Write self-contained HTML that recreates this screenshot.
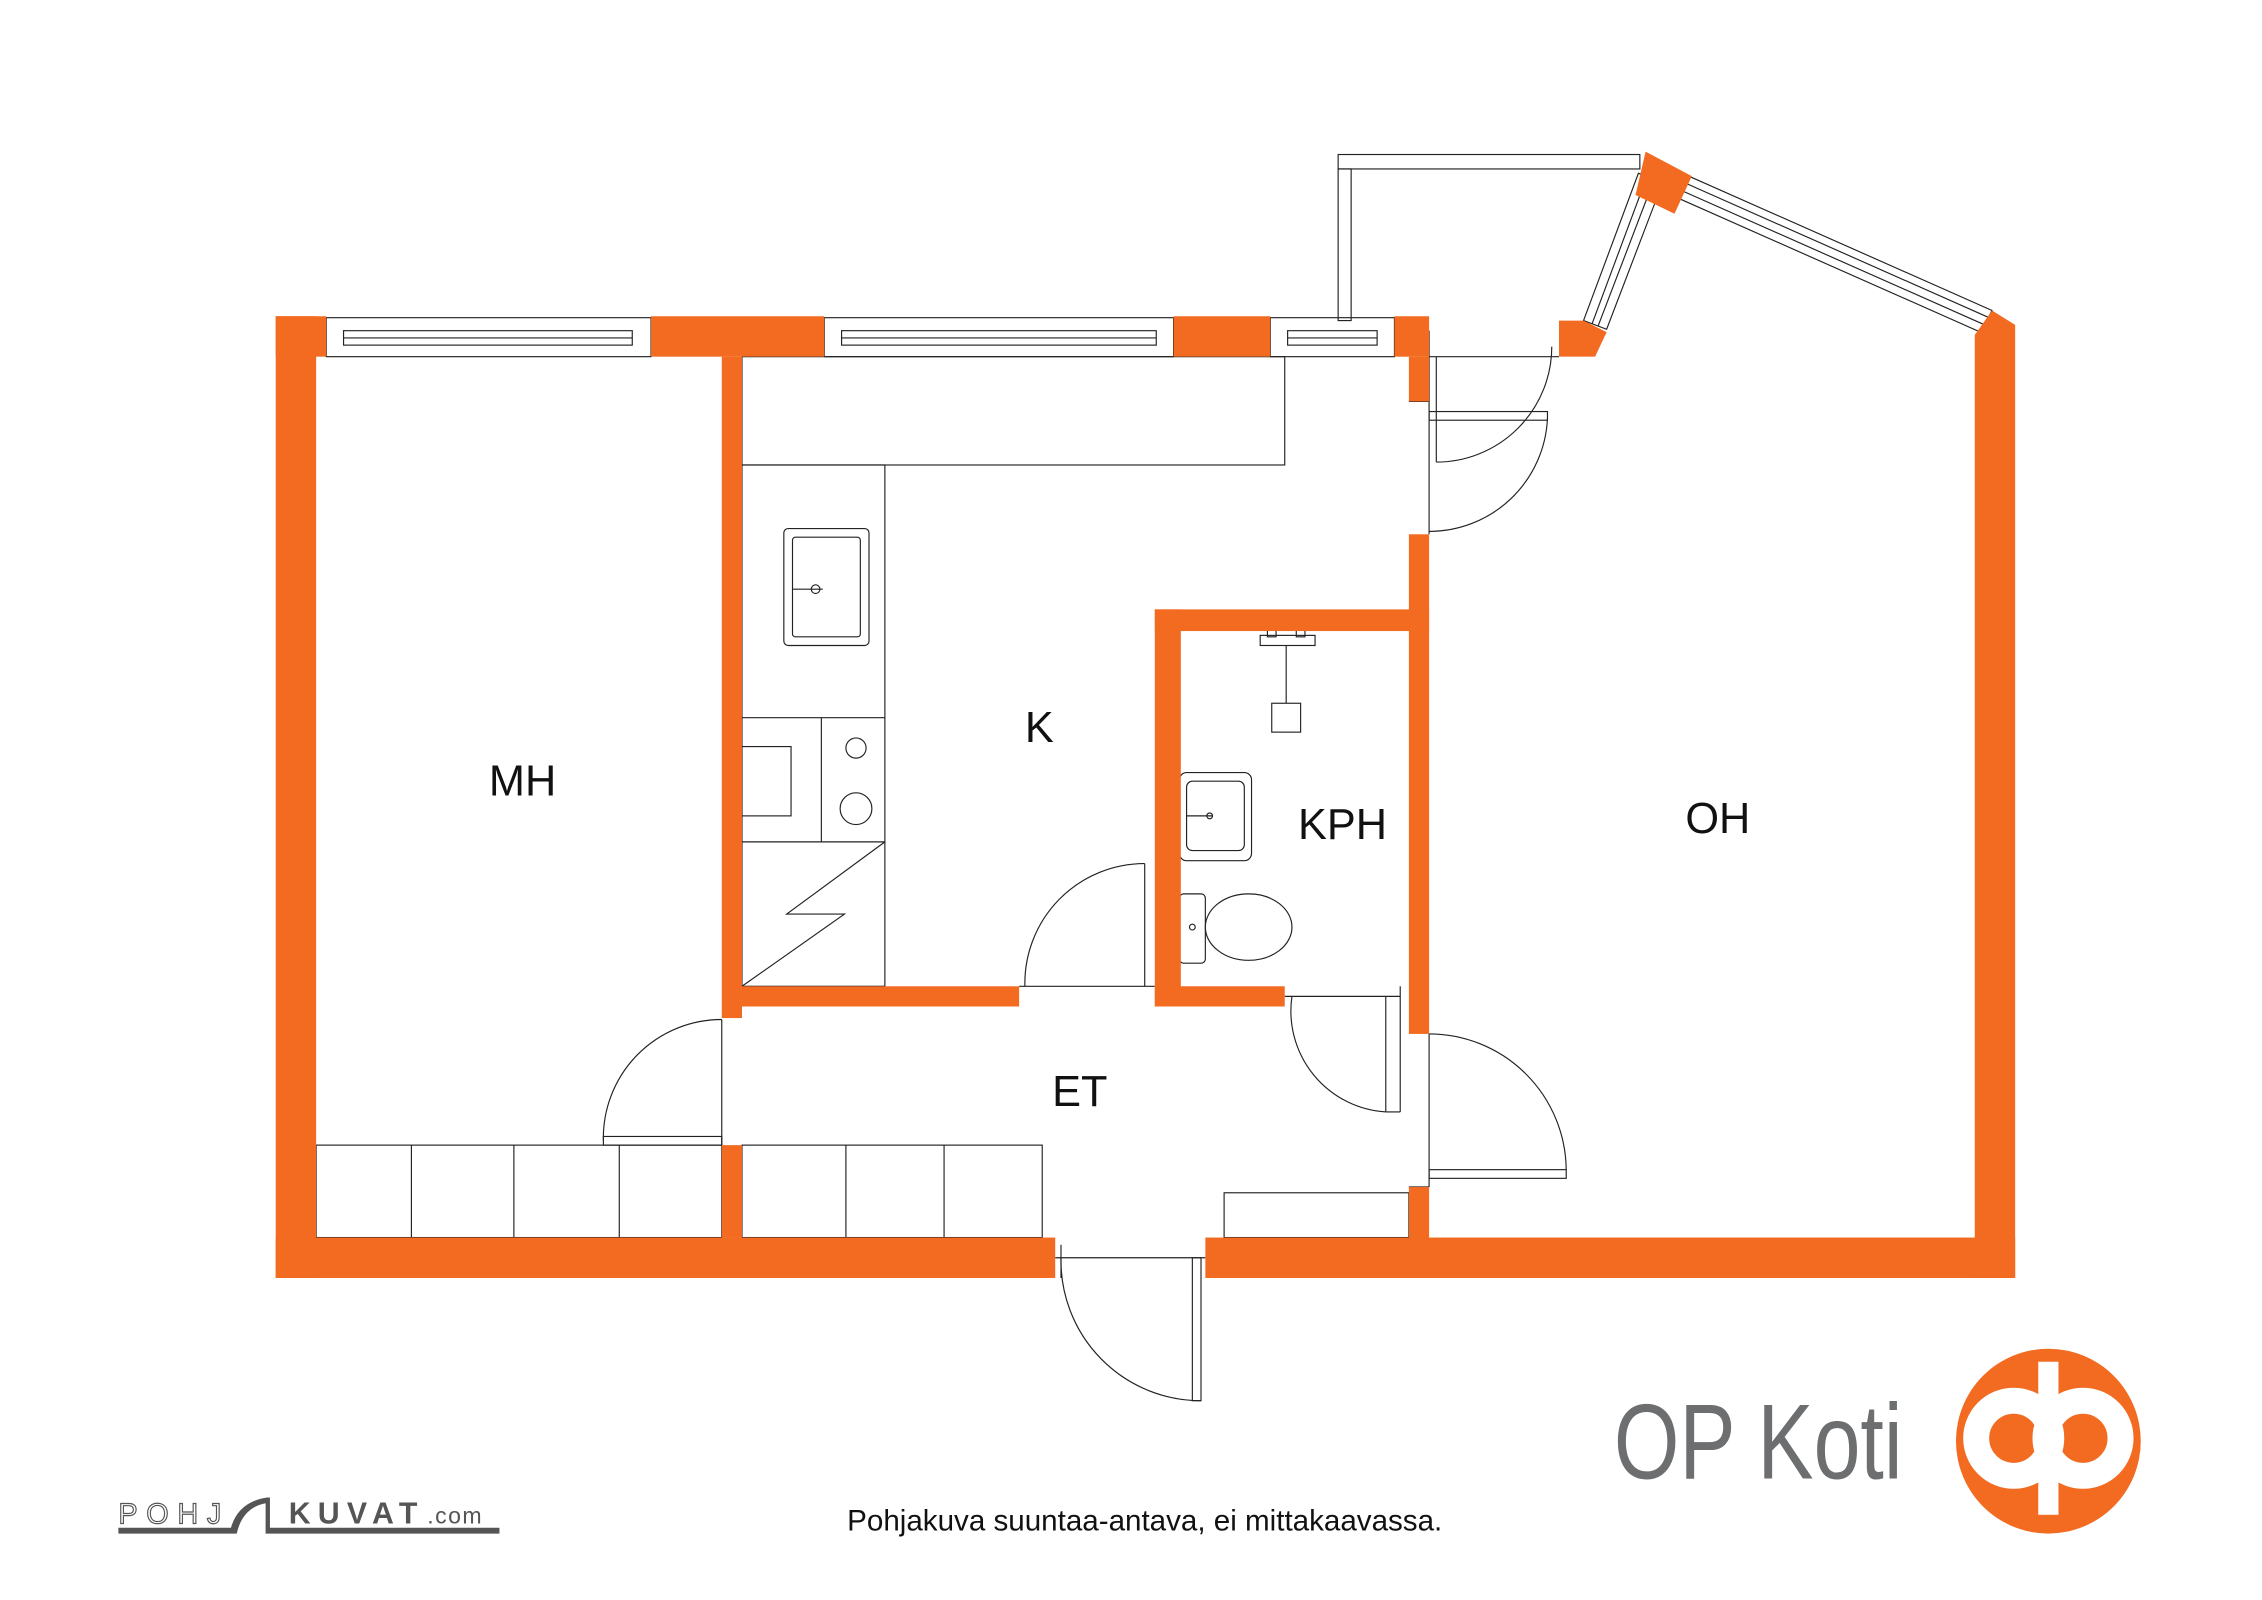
<!DOCTYPE html>
<html><head><meta charset="utf-8"><style>
html,body{margin:0;padding:0;background:#fff;}
svg{display:block;}
</style></head><body>
<svg width="2262" height="1600" viewBox="0 0 1567 1108" preserveAspectRatio="none" xmlns="http://www.w3.org/2000/svg" font-family="Liberation Sans, sans-serif">
<rect width="1567" height="1108" fill="#fff"/>
<g fill="none" stroke="#222" stroke-width="0.8">
<rect x="927" y="107" width="209" height="10"/>
<rect x="927" y="117" width="9" height="105"/>
<rect x="226" y="220" width="225" height="27"/>
<rect x="238" y="229" width="200" height="10"/>
<line x1="238" y1="234" x2="438" y2="234"/>
<rect x="571" y="220" width="242" height="27"/>
<rect x="583" y="229" width="218" height="10"/>
<line x1="583" y1="234" x2="801" y2="234"/>
<rect x="880" y="220" width="86" height="27"/>
<rect x="892" y="229" width="62" height="10"/>
<line x1="892" y1="234" x2="954" y2="234"/>
<polygon points="1097,222 1135,120 1152,126 1113,228"/>
<line x1="1103" y1="224" x2="1141" y2="122"/>
<line x1="1107" y1="226" x2="1146" y2="124"/>
<polygon points="1170,122 1380,215 1372,230 1162,137"/>
<line x1="1168" y1="127" x2="1378" y2="220"/>
<line x1="1165" y1="132" x2="1375" y2="225"/>
<line x1="990" y1="247" x2="1080" y2="247"/>
<line x1="990" y1="229" x2="990" y2="370"/>
<path d="M995,247 L995,320 M995,320 A80,80 0 0 0 1075,240"/>
<rect x="990" y="285" width="82" height="6"/>
<path d="M990,368 A82,82 0 0 0 1072,290"/>
<line x1="976" y1="278" x2="990" y2="278"/>
<rect x="514" y="247" width="376" height="75"/>
<rect x="514" y="322" width="99" height="361"/>
<rect x="543" y="366" width="59" height="81" rx="3"/>
<rect x="549" y="372" width="47" height="69" rx="2"/>
<line x1="549" y1="408" x2="570" y2="408"/><circle cx="565" cy="408" r="3"/>
<line x1="514" y1="497" x2="613" y2="497"/>
<line x1="569" y1="497" x2="569" y2="583"/>
<rect x="514" y="517" width="34" height="48"/>
<circle cx="593" cy="518" r="7"/><circle cx="593" cy="560" r="11"/>
<line x1="514" y1="583" x2="613" y2="583"/>
<polyline points="613,583 545,633 585,633 514,683"/>
<line x1="793" y1="598" x2="793" y2="683"/>
<path d="M710,683 A83,83 0 0 1 793,598"/>
<line x1="706" y1="683" x2="800" y2="683"/>
<rect x="881" y="487" width="20" height="20"/>
<line x1="891" y1="447" x2="891" y2="487"/>
<rect x="873" y="440" width="38" height="7"/>
<rect x="878" y="435" width="6" height="6"/><rect x="898" y="435" width="6" height="6"/>
<rect x="817" y="535" width="50" height="61" rx="5"/>
<rect x="822" y="541" width="40" height="48" rx="4"/>
<line x1="822" y1="565" x2="840" y2="565"/><circle cx="838" cy="565" r="2"/>
<rect x="817" y="619" width="18" height="48" rx="3"/>
<ellipse cx="865" cy="642" rx="30" ry="23"/>
<circle cx="826" cy="642" r="2"/>
<line x1="890" y1="690" x2="970" y2="690"/>
<line x1="960" y1="690" x2="960" y2="770"/><line x1="970" y1="683" x2="970" y2="770"/>
<line x1="960" y1="770" x2="970" y2="770"/>
<path d="M895,690 A70,70 0 0 0 960,770"/>
<line x1="990" y1="716" x2="990" y2="822"/>
<rect x="990" y="810" width="95" height="6"/>
<path d="M990,716 A95,95 0 0 1 1085,810"/>
<line x1="976" y1="822" x2="990" y2="822"/>
<line x1="500" y1="706" x2="500" y2="793"/>
<rect x="418" y="787" width="82" height="6"/>
<path d="M500,706 A82,82 0 0 0 418,790"/>
<rect x="219" y="793" width="281" height="64"/>
<line x1="285" y1="793" x2="285" y2="857"/><line x1="356" y1="793" x2="356" y2="857"/><line x1="429" y1="793" x2="429" y2="857"/>
<rect x="514" y="793" width="208" height="64"/>
<line x1="586" y1="793" x2="586" y2="857"/><line x1="654" y1="793" x2="654" y2="857"/>
<rect x="848" y="826" width="128" height="31"/>
<line x1="731" y1="871" x2="835" y2="871"/>
<rect x="826" y="871" width="6" height="99"/>
<path d="M735,871 A97,97 0 0 0 832,970"/>
<line x1="735" y1="862" x2="735" y2="885"/>
</g>
<g fill="#F26B21">
<rect x="191" y="219" width="35" height="28"/>
<rect x="191" y="219" width="28" height="666"/>
<rect x="451" y="219" width="120" height="28"/>
<rect x="813" y="219" width="67" height="28"/>
<rect x="966" y="219" width="24" height="28"/>
<rect x="976" y="247" width="14" height="31"/>
<polygon points="1080,222 1097,222 1113,230 1105,247 1080,247"/>
<polygon points="1140,105 1172,122 1160,148 1133,135"/>
<polygon points="1380,215 1396,225 1396,885 1368,885 1368,232"/>
<rect x="191" y="857" width="540" height="28"/>
<rect x="835" y="857" width="561" height="28"/>
<rect x="500" y="247" width="14" height="450"/>
<rect x="500" y="697" width="14" height="8"/>
<rect x="500" y="793" width="14" height="64"/>
<rect x="514" y="683" width="192" height="14"/>
<rect x="800" y="422" width="18" height="275"/>
<rect x="800" y="422" width="190" height="15"/>
<rect x="800" y="683" width="90" height="14"/>
<rect x="976" y="370" width="14" height="346"/>
<rect x="976" y="822" width="14" height="40"/>
</g>
<g font-size="30" fill="#111" text-anchor="middle">
<text x="362" y="551">MH</text>
<text x="720" y="514">K</text>
<text x="930" y="581">KPH</text>
<text x="1190" y="577">OH</text>
<text x="748" y="766">ET</text>
</g>
<text x="1118" y="1024" font-size="74" fill="#6d6e70" textLength="200" lengthAdjust="spacingAndGlyphs">OP Koti</text>
<circle cx="1419" cy="998" r="64" fill="#F26B21"/>
<circle cx="1395" cy="996" r="26" fill="none" stroke="#fff" stroke-width="18"/>
<circle cx="1443" cy="996" r="26" fill="none" stroke="#fff" stroke-width="18"/>
<rect x="1412" y="943" width="14" height="106" fill="#fff"/>
<text x="793" y="1060" font-size="20.5" fill="#111" text-anchor="middle">Pohjakuva suuntaa-antava, ei mittakaavassa.</text>
<g fill="#555">
<text x="82" y="1055" font-size="20" fill="#fff" stroke="#555" stroke-width="0.8" letter-spacing="6">POHJ</text>
<path d="M82,1058 L160,1058 Q165,1040 185,1037 L187,1037 L187,1058 L346,1058 L346,1062 L184,1062 L184,1041 Q168,1044 164,1062 L82,1062 Z"/>
<text x="200" y="1055" font-size="21" font-weight="bold" letter-spacing="5">KUVAT</text>
<text x="296" y="1055" font-size="16" letter-spacing="1">.com</text>
</g>
</svg>
</body></html>
